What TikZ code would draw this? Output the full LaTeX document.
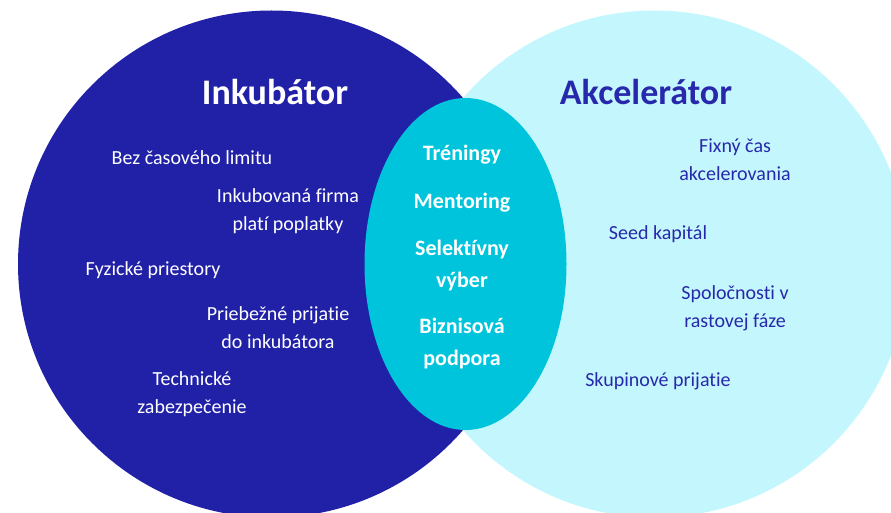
\documentclass[tikz,border=0pt]{standalone}
\usepackage{fontspec}
\setmainfont{Carlito}[Ligatures=NoCommon]
\usepackage{tikz}
\definecolor{inkblue}{RGB}{33,33,168}
\definecolor{akclight}{RGB}{196,247,253}
\definecolor{midcyan}{RGB}{0,196,220}
\definecolor{akctext}{RGB}{40,40,172}
\tikzset{%
	settitle/.style={font=\fontsize{36}{40}\selectfont\bfseries,inner sep=0pt,anchor=base},
	initem/.style={font=\fontsize{20}{28}\selectfont,text=white,align=center,inner sep=0pt,anchor=base},
	akitem/.style={initem,text=akctext},
	miditem/.style={font=\fontsize{22}{32}\selectfont\bfseries,text=white,align=center,inner sep=0pt,anchor=base}
}

\begin{document}
\begin{tikzpicture}[x=1pt,y=-1pt]
		\useasboundingbox (0,0) rectangle (891,513);
		\clip (0,0) rectangle (891,513);

		\coordinate (cink) at (271.5,264);
		\coordinate (cakc) at (654.5,264);
		\coordinate (cmid) at (465.5,264);

		\fill [akclight] (cakc) circle [radius=253.5];
		\fill [inkblue] (cink) circle [radius=253.5];
		\fill [midcyan] (cmid) ellipse [x radius=101, y radius=166];

		% base anchor of two-line nodes sits on the last line
		\node [settitle,text=white] (inkubator) at (275,105) {Inkubátor};
		\node [settitle,text=akctext] (akcelerator) at (646,105) {Akcelerátor};

		\node [initem] (bezcasu) at (192,165) {Bez časového limitu};
		\node [initem] (poplatky) at (288,230) {Inkubovaná firma\\platí poplatky};
		\node [initem] (priestory) at (153,275) {Fyzické priestory};
		\node [initem] (prijatie) at (278,348) {Priebežné prijatie\\do inkubátora};
		\node [initem] (technicke) at (192,413) {Technické\\zabezpečenie};

		\node [akitem] (fixcas) at (735,181) {Fixný čas\\akcelerovania};
		\node [akitem] (seed) at (658,240) {Seed kapitál};
		\node [akitem] (rast) at (735,327) {Spoločnosti v\\rastovej fáze};
		\node [akitem] (skupina) at (658,386) {Skupinové prijatie};

		\node [miditem] (treningy) at (462,161) {Tréningy};
		\node [miditem] (mentoring) at (462,208) {Mentoring};
		\node [miditem] (vyber) at (462,287) {Selektívny\\výber};
		\node [miditem] (podpora) at (462,365) {Biznisová\\podpora};

	\end{tikzpicture}
\end{document}
